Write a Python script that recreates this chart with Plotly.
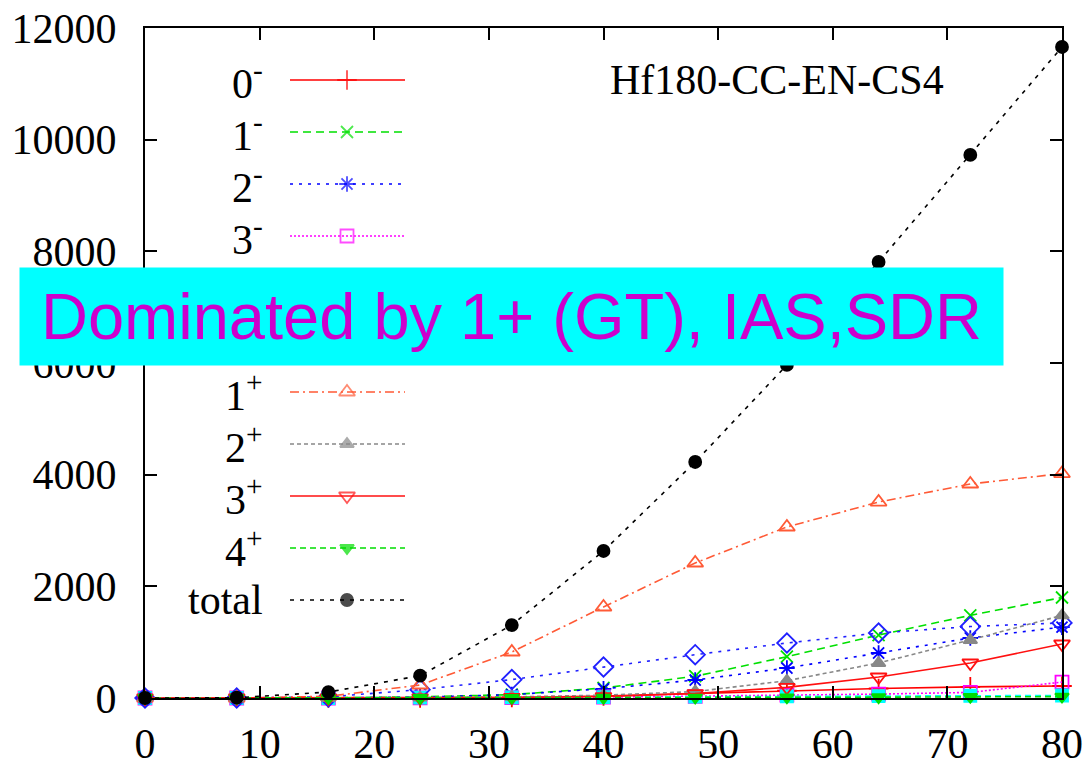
import plotly.graph_objects as go

# ---------------- data ----------------
x_vals = [0, 8, 16, 24, 32, 40, 48, 56, 64, 72, 80]

neg0 = [0, 0, 0, 3, 10, 35, 80, 130, 170, 200, 215]
neg1 = [0, 0, 3, 20, 60, 179, 390, 740, 1128, 1480, 1800]
neg2 = [0, 0, 2, 15, 60, 165, 322, 537, 806, 1075, 1270]
neg3 = [0, 0, 0, 2, 5, 15, 30, 50, 70, 100, 285]
neg4 = [0, 0, 0, 5, 10, 15, 25, 30, 35, 40, 45]
pos0 = [0, 0, 20, 150, 330, 555, 775, 985, 1164, 1280, 1345]
pos1 = [0, 0, 30, 233, 824, 1630, 2418, 3063, 3510, 3833, 4020]
pos2 = [0, 0, 0, 5, 20, 50, 115, 310, 627, 1039, 1480]
pos3 = [0, 0, 0, 3, 10, 25, 80, 190, 376, 627, 967]
pos4 = [0, 0, 0, 0, 2, 5, 8, 12, 15, 20, 25]
total = [0, 5, 107, 400, 1307, 2633, 4227, 5965, 7810, 9726, 11660]

labels = ["0<sup>-</sup>", "1<sup>-</sup>", "2<sup>-</sup>", "3<sup>-</sup>", "4<sup>-</sup>",
          "0<sup>+</sup>", "1<sup>+</sup>", "2<sup>+</sup>", "3<sup>+</sup>", "4<sup>+</sup>", "total"]
values = [neg0, neg1, neg2, neg3, neg4, pos0, pos1, pos2, pos3, pos4, total]

x_ticks = [0, 10, 20, 30, 40, 50, 60, 70, 80]
y_ticks = [0, 2000, 4000, 6000, 8000, 10000, 12000]
y_tick_text = ["0", "2000", "4000", "6000", "8000", "10000", "12000"]

title_text = "Hf180-CC-EN-CS4"
note_text = "Dominated by 1+ (GT), IAS,SDR"

# ---------------- styles ----------------
styles = [
    dict(color="#ff0000", dash="solid", symbol="cross-thin-open", msize=14),
    dict(color="#00e000", dash="8px,5px", symbol="x-thin-open", msize=12),
    dict(color="#0000ff", dash="3px,6px", symbol="asterisk-open", msize=13),
    dict(color="#ff00ff", dash="2px,2px", symbol="square-open", msize=13),
    dict(color="#00ffff", dash="6px,4px", symbol="square", msize=12),
    dict(color="#2020ff", dash="3px,6px", symbol="diamond-open", msize=15),
    dict(color="#ff5a36", dash="9px,4px,2px,4px", symbol="triangle-up-open", msize=14),
    dict(color="#888888", dash="4px,3px", symbol="triangle-up", msize=12),
    dict(color="#ff1010", dash="solid", symbol="triangle-down-open", msize=14),
    dict(color="#00dd00", dash="6px,4px", symbol="triangle-down", msize=12),
    dict(color="#000000", dash="4px,6px", symbol="circle", msize=12),
]

W, H = 1091, 763
L, R, T, B = 145, 1062, 28, 698

fig = go.Figure()

for lab, vals, st in zip(labels, values, styles):
    fig.add_trace(go.Scatter(
        x=x_vals, y=vals, mode="lines+markers", name=lab,
        line=dict(color=st["color"], width=1.6, dash=st["dash"]),
        marker=dict(symbol=st["symbol"], size=st["msize"], color=st["color"],
                    line=dict(color=st["color"], width=1.8)),
        cliponaxis=False, showlegend=False,
    ))

# manual gnuplot-style legend (text left, sample right) on a pixel overlay axis
row0, row_gap = 80, 52
for i, (lab, st) in enumerate(zip(labels, styles)):
    yy = row0 + i * row_gap
    fig.add_trace(go.Scatter(
        x=[290, 347, 405], y=[yy, yy, yy], mode="lines+markers",
        xaxis="x2", yaxis="y2",
        line=dict(color=st["color"], width=1.6, dash=st["dash"]),
        marker=dict(symbol=st["symbol"], size=[0, st["msize"], 0], color=st["color"],
                    line=dict(color=st["color"], width=1.8)),
        showlegend=False, hoverinfo="skip",
    ))
    fig.add_annotation(
        x=265, y=yy, xref="x2", yref="y2", text=lab, showarrow=False,
        xanchor="right", yanchor="middle",
        font=dict(family="Liberation Serif", size=42, color="black"),
    )

fig.add_annotation(
    x=777, y=80, xref="x2", yref="y2", text=title_text, showarrow=False,
    xanchor="center", yanchor="middle",
    font=dict(family="Liberation Serif", size=42, color="black"),
)

# cyan note box
bx0, bx1, by0, by1 = 20, 1003, 268, 365
fig.add_annotation(
    x=((bx0 + bx1) / 2 - L) / (R - L), y=(B - (by0 + by1) / 2) / (B - T),
    xref="paper", yref="paper", text=note_text, showarrow=False,
    xanchor="center", yanchor="middle",
    width=bx1 - bx0, height=by1 - by0, borderpad=0, bgcolor="#00ffff",
    font=dict(family="Liberation Sans", size=65, color="#cc00cc"),
)

axis_common = dict(showline=True, linecolor="black", linewidth=2, mirror="allticks",
                   ticks="inside", ticklen=12, tickwidth=1.5, tickcolor="black",
                   showgrid=False, zeroline=False, automargin=False,
                   tickfont=dict(family="Liberation Serif", size=42, color="black"))

fig.update_layout(
    width=W, height=H,
    margin=dict(l=L, r=W - R, t=T, b=H - B, pad=0, autoexpand=False),
    paper_bgcolor="white", plot_bgcolor="white",
    xaxis=dict(range=[0, 80], tickvals=x_ticks, ticklabelstandoff=8, **axis_common),
    yaxis=dict(range=[0, 12000], tickvals=y_ticks, ticktext=y_tick_text,
               ticklabelstandoff=18, **axis_common),
    xaxis2=dict(overlaying="x", range=[L, R], visible=False),
    yaxis2=dict(overlaying="y", range=[B, T], visible=False),
    showlegend=False,
)

fig.write_html("out.html")
